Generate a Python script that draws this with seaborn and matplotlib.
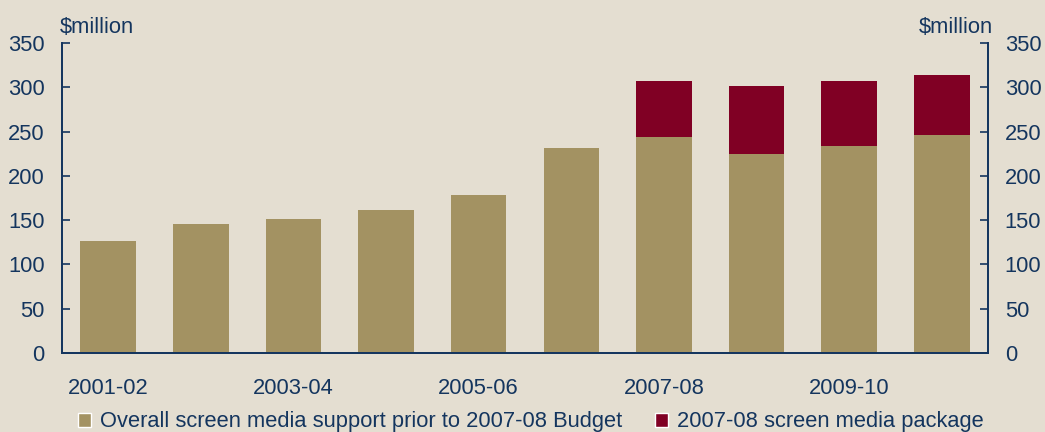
import matplotlib
matplotlib.use("Agg")
import matplotlib.pyplot as plt
from matplotlib.patches import Patch
from matplotlib.ticker import FixedLocator
import pandas as pd
import seaborn as sns

years = ['2001-02', '2002-03', '2003-04', '2004-05', '2005-06',
         '2006-07', '2007-08', '2008-09', '2009-10', '2010-11']
base = [126, 146, 151, 162, 178, 232, 244, 225, 234, 246]
package = [0, 0, 0, 0, 0, 0, 63, 77, 73, 68]
label_years = ['2001-02', '2003-04', '2005-06', '2007-08', '2009-10']

bg = '#E4DED1'
tan = '#A39262'
red = '#800024'
navy = '#14355E'
fs = 15.75

sns.set_theme(style='white')
plt.rcParams['font.family'] = ['Liberation Sans', 'DejaVu Sans']
plt.rcParams['font.size'] = fs

df = pd.DataFrame({'year': years, 'base': base,
                   'total': [b + p for b, p in zip(base, package)]})

fig = plt.figure(figsize=(10.45, 4.32), dpi=100, facecolor=bg)
ax = fig.add_axes([0.0593, 0.183, 0.8862, 0.717])
ax.set_facecolor(bg)

sns.barplot(data=df, x='year', y='total', color=red, width=0.6,
            saturation=1, linewidth=0, ax=ax)
sns.barplot(data=df, x='year', y='base', color=tan, width=0.6,
            saturation=1, linewidth=0, ax=ax)

ax.set_xlim(-0.5, len(years) - 0.5)
ax.set_ylim(0, 350)
ax.set_xlabel('')
ax.set_ylabel('')
ax.set_yticks(range(0, 351, 50))

pos = [years.index(y) for y in label_years]
ax.set_xticks(pos)
ax.set_xticklabels(label_years)
ax.xaxis.set_minor_locator(FixedLocator([i + 0.5 for i in range(len(years) - 1)]))
ax.tick_params(axis='x', which='major', length=0, pad=18, colors=navy, labelsize=fs)
ax.tick_params(axis='x', which='minor', direction='in', length=6, width=1.2, color=navy)
ax.tick_params(axis='y', direction='in', length=6, width=1.2, colors=navy,
               labelsize=fs, pad=12.5)

ax2 = ax.twinx()
ax2.set_ylim(0, 350)
ax2.set_yticks(range(0, 351, 50))
ax2.tick_params(axis='y', direction='in', length=6, width=1.2, colors=navy,
                labelsize=fs, pad=12)

for a in (ax, ax2):
    a.spines['top'].set_visible(False)
    for s in ('left', 'right', 'bottom'):
        a.spines[s].set_color(navy)
        a.spines[s].set_linewidth(1.3)

fig.text(0.0574, 1 - 33 / 432, r'\$million', color=navy, fontsize=fs,
         ha='left', va='baseline')
fig.text(0.950, 1 - 33 / 432, r'\$million', color=navy, fontsize=fs,
         ha='right', va='baseline')

handles = [Patch(facecolor=tan, label='Overall screen media support prior to 2007-08 Budget'),
           Patch(facecolor=red, label='2007-08 screen media package')]
fig.legend(handles=handles, loc='center', bbox_to_anchor=(0.508, 1 - 422 / 432), ncol=2,
           frameon=False, fontsize=fs, handlelength=0.6, handleheight=0.6,
           handletextpad=0.4, columnspacing=1.5, labelcolor=navy,
           borderpad=0, borderaxespad=0)

fig.savefig('out.png', dpi=100, facecolor=bg)
